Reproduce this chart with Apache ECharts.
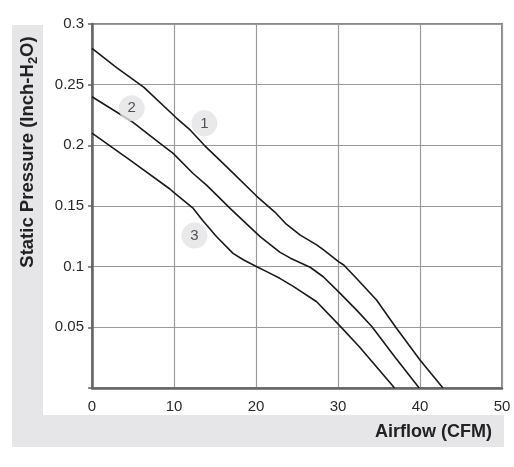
<!DOCTYPE html>
<html>
<head>
<meta charset="utf-8">
<script src="https://cdn.jsdelivr.net/npm/echarts@6/dist/echarts.min.js"></script>
<style>html,body{margin:0;padding:0;background:#fff}#c{width:514px;height:467px}</style>
</head>
<body>
<div id="c"></div>
<script>
// Airflow (CFM), Static pressure (Inch-H2O)
const curve1 = [[0,0.280],[3,0.264],[6.3,0.248],[10.3,0.2225],[12,0.2125],[13.7,0.200],[16.4,0.1824],[20.1,0.158],[22.3,0.145],[23.7,0.135],[25.4,0.126],[27.4,0.118],[28.2,0.114],[30.1,0.104],[30.7,0.1014],[32.3,0.090],[34.7,0.0725],[37,0.0505],[40,0.023],[42.8,0]];
const curve2 = [[0,0.240],[5,0.219],[8.3,0.2017],[9.9,0.1934],[12.3,0.177],[14,0.167],[17,0.147],[20.5,0.1247],[22.9,0.112],[24.2,0.107],[26.6,0.0995],[28.2,0.0917],[30.05,0.0794],[32.3,0.064],[34.15,0.0505],[36.75,0.0272],[39.9,0]];
const curve3 = [[0,0.210],[4.6,0.188],[9.5,0.164],[10,0.161],[12.35,0.148],[13.5,0.138],[15.2,0.1247],[17.2,0.111],[18.5,0.1055],[20.1,0.100],[21.3,0.0959],[22.9,0.0904],[24.5,0.084],[27.4,0.0711],[30.4,0.050],[32.6,0.034],[36.9,0]];
const markerLabels = ['1','2','3'];
const markerPos = [[13.7,0.2181],[4.84,0.2305],[12.5,0.1256]];
const xTicks = [0,10,20,30,40,50];
const yTicks = [0,0.05,0.1,0.15,0.2,0.25,0.3];

const FONT = '"Liberation Sans", Arial, Helvetica, sans-serif';
const chart = echarts.init(document.getElementById('c'), null, {renderer:'canvas'});
const lineStyle = {color:'#1a1a1a', width:1.6};
chart.setOption({
  animation:false,
  backgroundColor:'#fff',
  grid:{left:92, right:12, top:24, bottom:79, show:true, borderColor:'#8a8a8a', borderWidth:2, backgroundColor:'transparent'},
  xAxis:{type:'value', min:xTicks[0], max:xTicks[xTicks.length-1], interval:10,
    axisLine:{show:true, onZero:false, lineStyle:{color:'#666', width:2.5}},
    axisTick:{show:false},
    splitLine:{show:true, lineStyle:{color:'#9a9a9a', width:1.2}},
    axisLabel:{color:'#2a2a2a', fontSize:15, fontFamily:FONT, margin:11}
  },
  yAxis:{type:'value', min:yTicks[0], max:yTicks[yTicks.length-1], interval:0.05,
    axisLine:{show:true, onZero:false, lineStyle:{color:'#666', width:2.5}},
    axisTick:{show:true, length:4, lineStyle:{color:'#666', width:1.5}},
    splitLine:{show:true, lineStyle:{color:'#9a9a9a', width:1.2}},
    axisLabel:{color:'#2a2a2a', fontSize:15, fontFamily:FONT, margin:8,
      formatter:function(v){ return v===0 ? '' : String(+v.toFixed(2)); }}
  },
  graphic:[
    {type:'rect', z:-10, shape:{x:12, y:25, width:31, height:422}, style:{fill:'#e6e6e8'}},
    {type:'rect', z:-10, shape:{x:12, y:415, width:492, height:32}, style:{fill:'#e6e6e8'}},
    {type:'text', x:28, y:152, rotation:Math.PI/2, z:10,
      style:{text:'{a|Static Pressure (Inch-H}{s|2}{a|O)}', align:'center', verticalAlign:'middle',
        rich:{a:{fontSize:18.5, fontWeight:'bold', fontFamily:FONT, fill:'#222', lineHeight:24, verticalAlign:'middle'},
              s:{fontSize:13, fontWeight:'bold', fontFamily:FONT, fill:'#222', lineHeight:13, verticalAlign:'bottom'}}}},
    {type:'text', x:492, y:432, z:10,
      style:{text:'Airflow (CFM)', align:'right', verticalAlign:'middle', font:'bold 18px '+FONT, fill:'#222'}}
  ],
  series:[
    {type:'line', data:curve1, showSymbol:false, lineStyle:lineStyle, z:3},
    {type:'line', data:curve2, showSymbol:false, lineStyle:lineStyle, z:3},
    {type:'line', data:curve3, showSymbol:false, lineStyle:lineStyle, z:3},
    {type:'scatter', z:4, symbolSize:26, itemStyle:{color:'#e4e4e6'},
      data:markerPos.map((p,i)=>({value:p, name:markerLabels[i]})),
      label:{show:true, position:'inside', formatter:'{b}', color:'#2a2a2a', fontSize:15, fontFamily:FONT}}
  ]
});
</script>
</body>
</html>
